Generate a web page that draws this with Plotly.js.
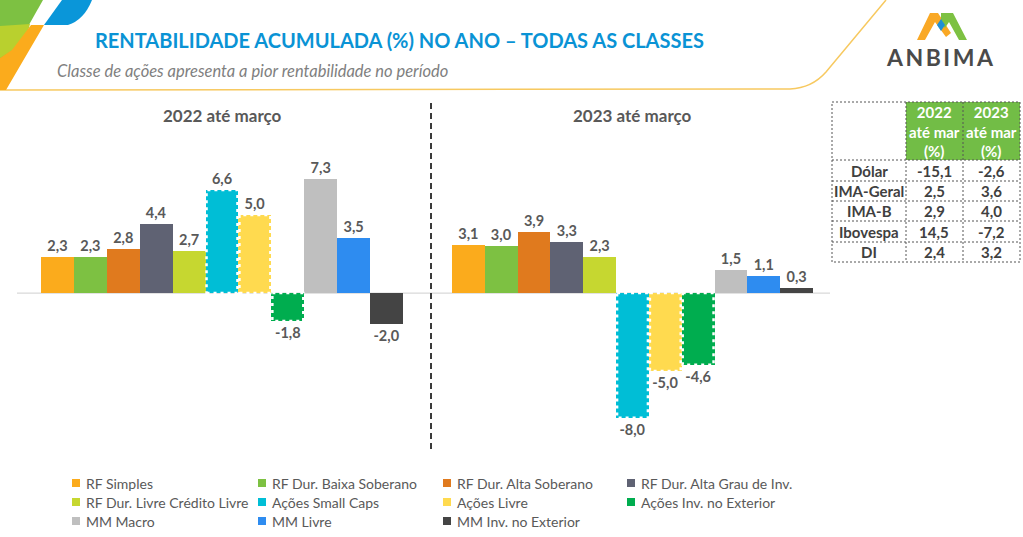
<!DOCTYPE html>
<html><head><meta charset="utf-8">
<script src="https://cdn.plot.ly/plotly-3.0.1.min.js"></script>
<style>html,body{margin:0;padding:0;background:#fff}#chart{width:1023px;height:537px}</style>
</head><body><div id="chart"></div>
<script>
const categories = ['RF Simples','RF Dur. Baixa Soberano','RF Dur. Alta Soberano','RF Dur. Alta Grau de Inv.','RF Dur. Livre Crédito Livre','Ações Small Caps','Ações Livre','Ações Inv. no Exterior','MM Macro','MM Livre','MM Inv. no Exterior'];
const values2022 = [2.3, 2.3, 2.8, 4.4, 2.7, 6.6, 5.0, -1.8, 7.3, 3.5, -2.0];
const values2023 = [3.1, 3.0, 3.9, 3.3, 2.3, -8.0, -5.0, -4.6, 1.5, 1.1, 0.3];
const colors = ['#FBAB1C','#7DC142','#E07A1E','#5F6273','#C6D730','#00BED6','#FFDA4F','#00AD4F','#BFBFBF','#2E8CF0','#444444'];
const dashedCategories = ['Ações Small Caps','Ações Livre','Ações Inv. no Exterior'];
const panelTitles = ['2022 até março','2023 até março'];
const tableRows = ['Dólar','IMA-Geral','IMA-B','Ibovespa','DI'];
const table2022 = [-15.1, 2.5, 2.9, 14.5, 2.4];
const table2023 = [-2.6, 3.6, 4.0, -7.2, 3.2];
const tableHeaders = ['2022<br>até mar<br>(%)','2023<br>até mar<br>(%)'];
const titleText = 'RENTABILIDADE ACUMULADA (%) NO ANO – TODAS AS CLASSES';
const subtitleText = 'Classe de ações apresenta a pior rentabilidade no período';

const FONT = 'Lato, "Open Sans", sans-serif';
const GRAY = '#595959';
const ML = 41, MR = 210, MT = 100, MB = 77, W = 1023, H = 537;
const PW = W - ML - MR, PH = H - MT - MB;
const px = x => (x - ML) / PW;
const py = y => (H - MB - y) / PH;
const fmt = v => v.toFixed(1).replace('.', ',');

const traces = [];
const panels = [values2022, values2023];
panels.forEach((vals, p) => {
  categories.forEach((c, i) => {
    traces.push({
      type: 'bar', name: c, x: [c], y: [vals[i]],
      xaxis: p === 0 ? 'x' : 'x2', yaxis: 'y',
      legendgroup: c, showlegend: false,
      marker: {color: colors[i], line: {width: 0}},
      texttemplate: '%{y:.1f}', textposition: 'outside', cliponaxis: false,
      constraintext: 'none',
      textfont: {family: FONT, size: 14.5, color: GRAY, weight: 700},
      hoverinfo: 'x+y'
    });
  });
});

const shapes = [];
panels.forEach((vals, p) => {
  categories.forEach((c, i) => {
    if (dashedCategories.includes(c)) {
      shapes.push({type: 'rect', xref: p === 0 ? 'x' : 'x2', yref: 'y',
        x0: i - 0.47, x1: i + 0.47, y0: 0, y1: vals[i],
        line: {color: '#ffffff', width: 2.5, dash: '3px,4px'}, layer: 'above'});
    }
  });
});
shapes.push({type: 'line', xref: 'paper', yref: 'y', x0: px(17), x1: px(830), y0: 0, y1: 0,
  line: {color: '#D9D9D9', width: 1.2}, layer: 'below'});
shapes.push({type: 'line', xref: 'paper', yref: 'paper', x0: px(431), x1: px(431), y0: py(103), y1: py(452),
  line: {color: '#3a3a3a', width: 2, dash: '6px,4px'}});
function pathPx(pts) {
  return pts.map(s => s.replace(/(-?\d+\.?\d*),(-?\d+\.?\d*)/g, (m, a, b) => px(+a).toFixed(5) + ',' + py(+b).toFixed(5))).join(' ');
}
shapes.push({type: 'path', xref: 'paper', yref: 'paper',
  path: pathPx(['M0,90', 'L790,89', 'Q812,88 826,72', 'L886,0']),
  line: {color: '#F7C960', width: 1.5}});
shapes.push({type: 'path', xref: 'paper', yref: 'paper', path: pathPx(['M0,0','L43,0','L0,76','Z']), fillcolor: '#7DC142', line: {width: 0}});
shapes.push({type: 'path', xref: 'paper', yref: 'paper', path: pathPx(['M0,26','L30,24','Q26,42 10,52','L0,58','Z']), fillcolor: '#B9D02E', line: {width: 0}});
shapes.push({type: 'path', xref: 'paper', yref: 'paper', path: pathPx(['M31,25','L44,25','L6,90','L0,90','L0,58','L12,50','Z']), fillcolor: '#FBAB1C', line: {width: 0}});
shapes.push({type: 'path', xref: 'paper', yref: 'paper', path: pathPx(['M62,0','L92,0','Q84,20 68,25','L44,25','Z']), fillcolor: '#0A96D9', line: {width: 0}});
shapes.push({type: 'path', xref: 'paper', yref: 'paper', path: pathPx(['M917,40','L925,40','L935,22','L946,37','L951,33','L938,13','L930,13','Z']), fillcolor: '#F9A825', line: {width: 0}});
shapes.push({type: 'path', xref: 'paper', yref: 'paper', path: pathPx(['M941,13','L953,13','L967,40','L959,40','L949,22','L945,28','L941,22','Z']), fillcolor: '#7DC142', line: {width: 0}});
shapes.push({type: 'path', xref: 'paper', yref: 'paper', path: pathPx(['M941,19','L945,25','L941,31','L937,25','Z']), fillcolor: '#1E90D8', line: {width: 0}});
const TX = [832, 906, 963, 1020];
const TY = [102, 160, 181, 201, 221, 242, 262];
shapes.push({type: 'rect', xref: 'paper', yref: 'paper', x0: px(TX[1]), x1: px(TX[3]), y0: py(TY[0]), y1: py(TY[1]), fillcolor: '#72BD46', line: {width: 0}, layer: 'below'});
const dashLine = {color: '#555555', width: 1, dash: '2px,2px'};
shapes.push({type: 'rect', xref: 'paper', yref: 'paper', x0: px(TX[0]), x1: px(TX[3]), y0: py(TY[0]), y1: py(TY[6]), line: dashLine});
[TX[1], TX[2]].forEach(x => shapes.push({type: 'line', xref: 'paper', yref: 'paper', x0: px(x), x1: px(x), y0: py(TY[0]), y1: py(TY[6]), line: dashLine}));
TY.slice(1, 6).forEach(y => shapes.push({type: 'line', xref: 'paper', yref: 'paper', x0: px(TX[0]), x1: px(TX[3]), y0: py(y), y1: py(y), line: dashLine}));

const annotations = [];
annotations.push({xref: 'paper', yref: 'paper', x: px(93), y: py(40), xanchor: 'left', yanchor: 'middle', showarrow: false,
  text: '<b>' + titleText + '</b>', font: {family: FONT, size: 20, color: '#0A93D5'}});
annotations.push({xref: 'paper', yref: 'paper', x: px(55), y: py(71), xanchor: 'left', yanchor: 'middle', showarrow: false,
  text: '<i>' + subtitleText + '</i>', font: {family: FONT, size: 16.5, color: '#7F7F7F'}});
annotations.push({xref: 'paper', yref: 'paper', x: px(941), y: py(57), xanchor: 'center', yanchor: 'middle', showarrow: false,
  text: '<span style="letter-spacing:2.5px"><b>ANBIMA</b></span>', font: {family: FONT, size: 23, color: '#4A4A4A'}});
[222, 632].forEach((cx, k) => annotations.push({xref: 'paper', yref: 'paper', x: px(cx), y: py(116), xanchor: 'center', yanchor: 'middle', showarrow: false,
  text: '<b>' + panelTitles[k] + '</b>', font: {family: FONT, size: 17, color: GRAY}}));
tableHeaders.forEach((t, k) => annotations.push({xref: 'paper', yref: 'paper', x: px((TX[k + 1] + TX[k + 2]) / 2), y: py((TY[0] + TY[1]) / 2), xanchor: 'center', yanchor: 'middle', showarrow: false,
  text: '<b>' + t + '</b>', font: {family: FONT, size: 15, color: '#ffffff'}}));
tableRows.forEach((r, i) => {
  const cy = py((TY[i + 1] + TY[i + 2]) / 2);
  const cells = [r, fmt(table2022[i]), fmt(table2023[i])];
  cells.forEach((t, k) => annotations.push({xref: 'paper', yref: 'paper', x: px((TX[k] + TX[k + 1]) / 2), y: cy, xanchor: 'center', yanchor: 'middle', showarrow: false,
    text: '<b>' + t + '</b>', font: {family: FONT, size: 15, color: '#404040'}}));
});

// legend (4 columns x 3 rows, drawn as keys + labels)
const LEG_X = [72, 258, 443, 627];
const LEG_Y = [483, 502, 521];
categories.forEach((c, i) => {
  const lx = LEG_X[i % 4], ly = LEG_Y[Math.floor(i / 4)];
  shapes.push({type: 'rect', xref: 'paper', yref: 'paper', x0: px(lx), x1: px(lx + 8), y0: py(ly - 4), y1: py(ly + 4),
    fillcolor: colors[i], line: {width: 0}});
  annotations.push({xref: 'paper', yref: 'paper', x: px(lx + 12), y: py(ly), xanchor: 'left', yanchor: 'middle', showarrow: false,
    text: c, font: {family: FONT, size: 14, color: GRAY}});
});

const xbase = {type: 'category', categoryorder: 'array', categoryarray: categories, range: [-0.5, 10.5],
  showticklabels: false, showgrid: false, zeroline: false, showline: false, ticks: '', fixedrange: true};
const layout = {
  width: W, height: H, margin: {l: ML, r: MR, t: MT, b: MB, pad: 0, autoexpand: false},
  paper_bgcolor: '#ffffff', plot_bgcolor: 'rgba(0,0,0,0)',
  separators: ',.', barmode: 'relative', bargap: 0,
  font: {family: FONT, color: GRAY},
  xaxis: Object.assign({}, xbase, {domain: [0, px(403)]}),
  xaxis2: Object.assign({}, xbase, {domain: [px(452), 1], anchor: 'y'}),
  yaxis: {range: [-10.7, 12.37], showticklabels: false, showgrid: false, zeroline: false, showline: false, ticks: '', fixedrange: true},
  showlegend: false,
  shapes: shapes, annotations: annotations
};
Plotly.newPlot('chart', traces, layout, {displayModeBar: false, staticPlot: true});
</script></body></html>
